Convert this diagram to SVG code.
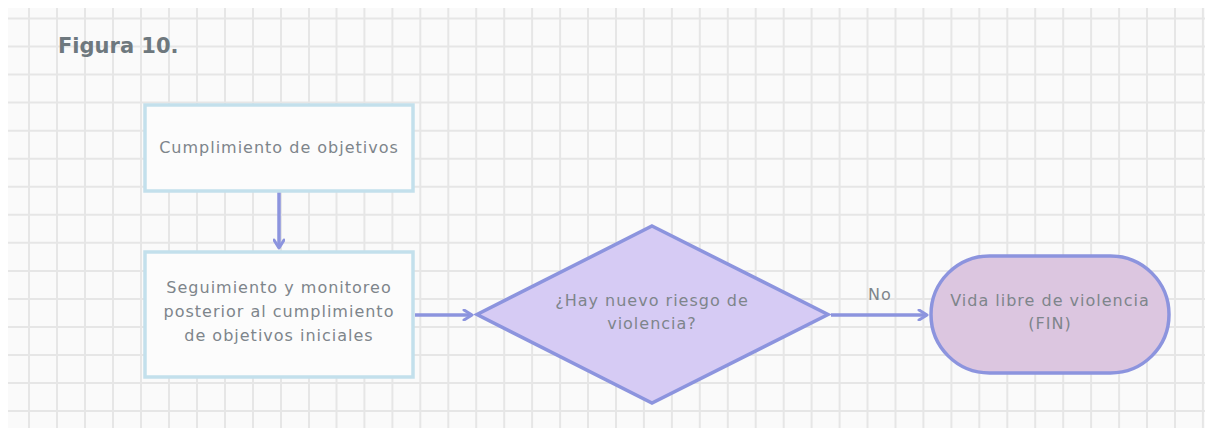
<svg xmlns="http://www.w3.org/2000/svg" width="1205" height="428" viewBox="0 0 1205 428">
<style>
.grid{stroke:#e6e6e6;stroke-width:2;fill:none}
.box{fill:#fcfcfc;stroke:#c3e0ec;stroke-width:3.5}
.lbl{font-family:"DejaVu Sans","Noto Sans",sans-serif;font-size:16px;letter-spacing:1px;fill:#7e858b;text-anchor:middle}
.conn{stroke:#8c94de;stroke-width:3.5;fill:none}
.dia{fill:#d6cbf4;stroke:#8c94de;stroke-width:3.5}
.term{fill:#dcc6e0;stroke:#8c94de;stroke-width:3.5}
.title{font-family:"DejaVu Sans","Noto Sans",sans-serif;font-size:21px;font-weight:700;fill:#6e787e}
</style>
<defs>
<marker id="arr" viewBox="0 0 12 12" refX="10" refY="6" markerWidth="12" markerHeight="12" markerUnits="userSpaceOnUse" orient="auto">
<path d="M2,1 L10,6 L2,11" fill="none" stroke="#8c94de" stroke-width="3" stroke-linecap="round" stroke-linejoin="round"/>
</marker>
</defs>
<rect x="0" y="0" width="1205" height="428" fill="#ffffff"/>
<rect x="8" y="8" width="1197" height="420" fill="#fafafa"/>
<path class="grid" d="M29,8V428M57,8V428M85,8V428M113,8V428M141,8V428M169,8V428M197,8V428M225,8V428M253,8V428M281,8V428M309,8V428M336.5,8V428M364.4,8V428M392.4,8V428M420.3,8V428M448.3,8V428M476.2,8V428M504.2,8V428M532.1,8V428M560.1,8V428M588,8V428M616,8V428M643.9,8V428M671.9,8V428M699.8,8V428M727.8,8V428M755.7,8V428M783.7,8V428M811.6,8V428M839.6,8V428M867.5,8V428M895.5,8V428M923.4,8V428M951.4,8V428M979.3,8V428M1007.3,8V428M1035.2,8V428M1063.2,8V428M1091.1,8V428M1119.1,8V428M1147,8V428M1175,8V428M1202.9,8V428M8,18.5H1205M8,46.5H1205M8,74.6H1205M8,102.6H1205M8,130.7H1205M8,158.7H1205M8,186.7H1205M8,214.8H1205M8,242.8H1205M8,270.9H1205M8,298.9H1205M8,326.9H1205M8,355H1205M8,383H1205M8,411H1205"/>
<text class="title" x="58" y="53">Figura 10.</text>
<g id="connectors">
<path class="conn" d="M279,192V248" marker-end="url(#arr)"/>
<path class="conn" d="M415,315H472" marker-end="url(#arr)"/>
<path class="conn" d="M831,315H927" marker-end="url(#arr)"/>
<text class="lbl" x="880" y="300">No</text>
</g>
<g id="n1">
<rect class="box" x="145" y="105" width="268" height="86"/>
<text class="lbl" x="279" y="153">Cumplimiento de objetivos</text>
</g>
<g id="n2">
<rect class="box" x="145" y="252" width="268" height="125"/>
<text class="lbl" x="279" y="293">Seguimiento y monitoreo</text>
<text class="lbl" x="279" y="317">posterior al cumplimiento</text>
<text class="lbl" x="279" y="341">de objetivos iniciales</text>
</g>
<g id="n3">
<path class="dia" d="M652,226L828,314.5L652,403L477,314.5Z"/>
<text class="lbl" x="652" y="306">¿Hay nuevo riesgo de</text>
<text class="lbl" x="652" y="329">violencia?</text>
</g>
<g id="n4">
<rect class="term" x="931" y="256" width="238" height="117" rx="58.5" ry="58.5"/>
<text class="lbl" x="1050" y="306">Vida libre de violencia</text>
<text class="lbl" x="1050" y="329">(FIN)</text>
</g>
</svg>
